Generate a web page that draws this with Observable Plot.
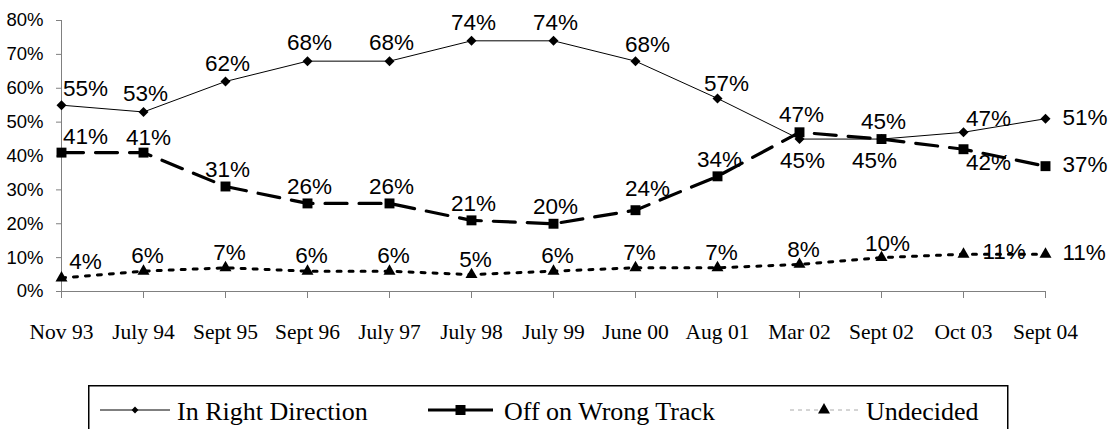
<!DOCTYPE html>
<html><head><meta charset="utf-8">
<script src="https://cdn.jsdelivr.net/npm/d3@7"></script>
<script src="https://cdn.jsdelivr.net/npm/@observablehq/plot@0.6"></script>
<style>
body{margin:0;background:#fff;width:1117px;height:429px;overflow:hidden;position:relative;}
#chart{position:absolute;left:0;top:0;}
#legend{position:absolute;left:88px;top:385px;}
#legend text{font-family:"Liberation Serif","Times New Roman",serif;}
</style></head><body>
<div id="chart"></div>
<div id="legend"></div>
<script>
const dates = ["Nov 93","July 94","Sept 95","Sept 96","July 97","July 98","July 99","June 00","Aug 01","Mar 02","Sept 02","Oct 03","Sept 04"];
const rightDirection = [55,53,62,68,68,74,74,68,57,45,45,47,51];
const wrongTrack = [41,41,31,26,26,21,20,24,34,47,45,42,37];
const undecided = [4,6,7,6,6,5,6,7,7,8,10,11,11];
const seriesNames = ["In Right Direction","Off on Wrong Track","Undecided"];
const yTicks = [0,10,20,30,40,50,60,70,80];

const SERIF = "Liberation Serif";
const SANS = "Liberation Sans";
const seriesValues = [rightDirection, wrongTrack, undecided];
const last = dates.length - 1;

// label placement logic (offsets in pixels relative to the point)
function placement(s, i) {
  const d = dates[i];
  if (i === last) return {dx: 17, dy: -1, a: "start"};
  if (i === 0) return {dx: 24, dy: -16, a: "middle"};
  if (s === 0) {
    if (rightDirection[i] <= wrongTrack[i]) return {dx: d === "Sept 02" ? -7 : 3, dy: 22, a: "middle"};
    if (i === last - 1) return {dx: 25, dy: -13, a: "middle"};
    if (d === "June 00") return {dx: 12, dy: -16, a: "middle"};
    if (d === "Aug 01") return {dx: 9, dy: -15, a: "middle"};
    return {dx: 2, dy: -18, a: "middle"};
  }
  if (s === 1) {
    if (i === last - 1) return {dx: 25, dy: 14, a: "middle"};
    if (d === "June 00") return {dx: 12, dy: -21, a: "middle"};
    if (d === "July 94") return {dx: 5, dy: -15, a: "middle"};
    return {dx: 2, dy: -17, a: "middle"};
  }
  if (i === last - 1) return {dx: 19, dy: -2, a: "start"};
  if (d === "Sept 02") return {dx: 6, dy: -14, a: "middle"};
  return {dx: 4, dy: -15, a: "middle"};
}

const rows = [];
seriesValues.forEach((vals, s) => vals.forEach((v, i) => {
  const p = placement(s, i);
  rows.push({date: dates[i], value: v, s, key: `${p.dx}|${p.dy}|${p.a}`, p});
}));
const bySeries = s => rows.filter(d => d.s === s);

const groups = d3.groups(rows, d => d.key);
const labelMarks = groups.map(([key, g]) => {
  const p = g[0].p;
  return Plot.text(g, {
    x: "date", y: "value", text: d => d.value + "%",
    dx: p.dx, dy: p.dy, textAnchor: p.a,
    fontSize: 22.5, fontFamily: SANS, fill: "black"
  });
});

const chart = Plot.plot({
  width: 1117,
  height: 360,
  marginLeft: 61,
  marginRight: 72,
  marginTop: 20,
  marginBottom: 69,
  style: {fontFamily: SANS, background: "white"},
  x: {type: "point", domain: dates, padding: 0, label: null},
  y: {domain: [0, 80], label: null},
  marks: [
    Plot.ruleY([0], {stroke: "#808080", strokeWidth: 1}),
    Plot.ruleX([dates[0]], {y1: 0, y2: 80, stroke: "#808080", strokeWidth: 1}),
    Plot.axisY({ticks: yTicks, tickFormat: d => d + "%", tickSize: 5, tickPadding: 13, label: null,
      fontSize: 18.5, fontFamily: SANS, stroke: "#808080", fill: "black"}),
    Plot.axisX({tickSize: 7, tickPadding: 25, fontSize: 21.5, label: null,
      fontFamily: SERIF, stroke: "#808080", fill: "black"}),
    Plot.line(bySeries(2), {x: "date", y: "value", stroke: "black", strokeWidth: 3, strokeDasharray: "4,8"}),
    Plot.line(bySeries(1), {x: "date", y: "value", stroke: "black", strokeWidth: 3.2, strokeDasharray: "22,12"}),
    Plot.line(bySeries(0), {x: "date", y: "value", stroke: "black", strokeWidth: 1}),
    Plot.dot(bySeries(0), {x: "date", y: "value", symbol: "diamond2", r: 4.5, fill: "black", stroke: "none"}),
    Plot.dot(bySeries(1), {x: "date", y: "value", symbol: "square", r: 5.6, fill: "black", stroke: "none"}),
    Plot.dot(bySeries(2), {x: "date", y: "value", symbol: "triangle", r: 4.45, fill: "black", stroke: "none"}),
    ...labelMarks
  ]
});
document.getElementById("chart").appendChild(chart);

// legend
const lg = d3.select("#legend").append("svg").attr("width", 921).attr("height", 44);
lg.append("rect").attr("x", 0.75).attr("y", 0.75).attr("width", 919).attr("height", 80)
  .attr("fill", "white").attr("stroke", "black").attr("stroke-width", 1.5);
const items = [
  {x0: 12, x1: 82, sym: d3.symbolDiamond2, size: 30, lw: 1, dash: null, color: "black", tx: 89},
  {x0: 340, x1: 405, sym: d3.symbolSquare, size: 100, lw: 3, dash: null, color: "black", tx: 416},
  {x0: 702, x1: 770, sym: d3.symbolTriangle, size: 62, lw: 1, dash: "4,4", color: "#aaa", tx: 778}
];
const ly = 25;
items.forEach((it, k) => {
  lg.append("line").attr("x1", it.x0).attr("x2", it.x1).attr("y1", ly).attr("y2", ly)
    .attr("stroke", it.color).attr("stroke-width", it.lw).attr("stroke-dasharray", it.dash);
  lg.append("path").attr("d", d3.symbol(it.sym, it.size)())
    .attr("transform", `translate(${(it.x0 + it.x1) / 2},${ly})`).attr("fill", "black");
  lg.append("text").attr("x", it.tx).attr("y", ly + 1).attr("dominant-baseline", "central")
    .attr("font-family", SERIF).attr("font-size", 26)
    .attr("fill", "black").text(seriesNames[k]);
});
</script>
</body></html>
